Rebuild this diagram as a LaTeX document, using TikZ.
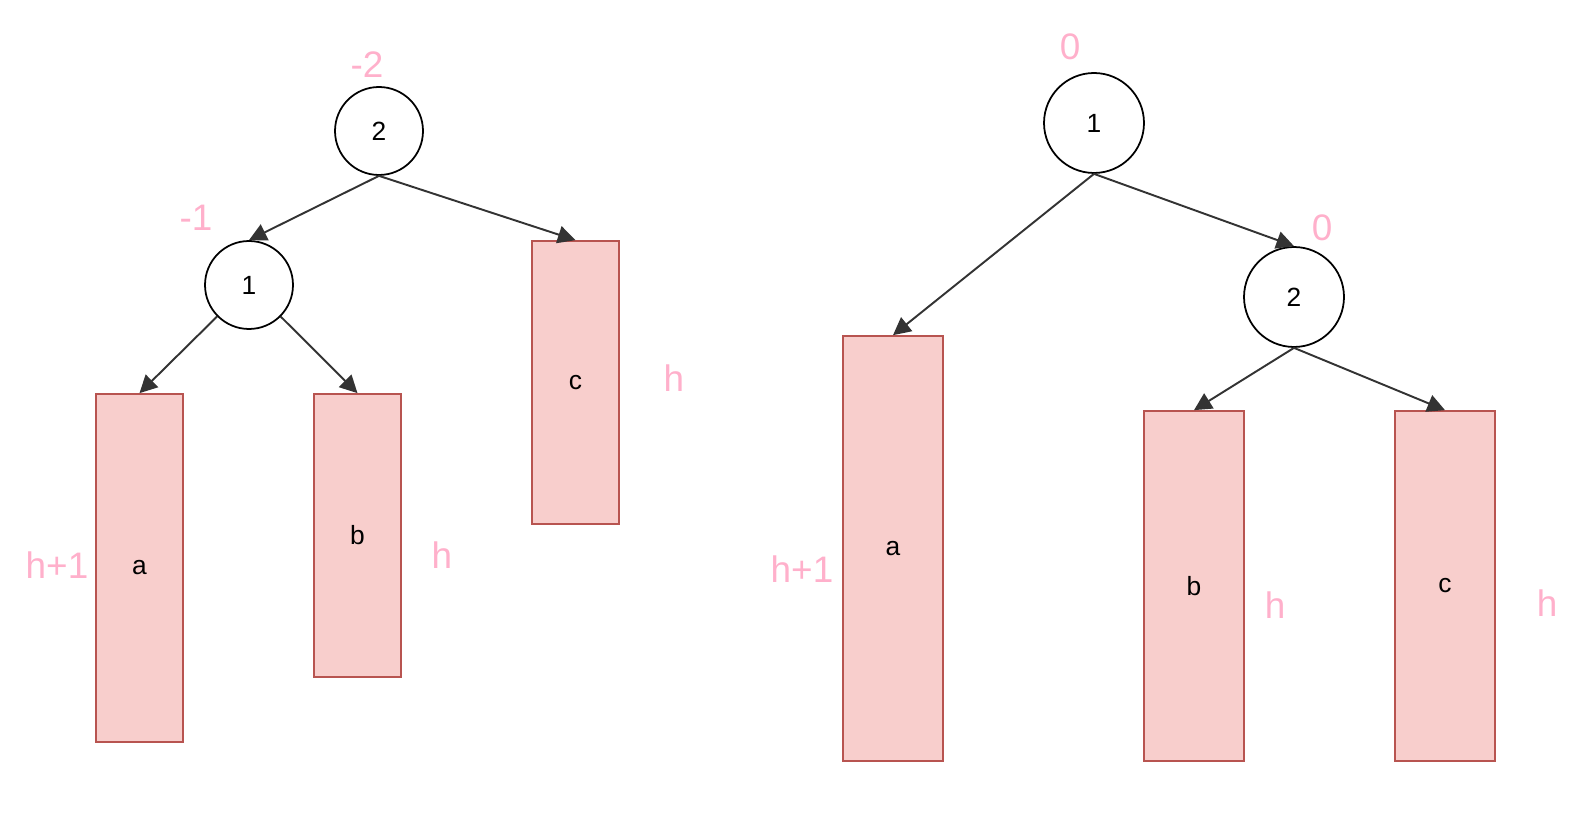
\documentclass[tikz,border=0pt]{standalone}
\usepackage{fontspec}
\setmainfont{Liberation Sans}
\usetikzlibrary{arrows.meta}

\definecolor{subfill}{HTML}{F8CECC}
\definecolor{subdraw}{HTML}{B85450}
\definecolor{balpink}{HTML}{FFB0CB}

\begin{document}
\begin{tikzpicture}
          [
            x=0.02cm, y=-0.02cm,
            tnode/.style={circle,draw=black,line width=1pt,fill=white,font=\fontsize{15}{15}\selectfont},
            sub/.style={rectangle,draw=subdraw,fill=subfill,line width=1pt,font=\fontsize{15}{15}\selectfont},
            bal/.style={text=balpink,font=\fontsize{21}{21}\selectfont},
            edge/.style={draw=black!80,line width=1.1pt,-{Triangle[length=10pt,width=10pt]}}
          ]
          \useasboundingbox (0,0) rectangle (1595,830);
          % left tree
          \node [tnode,minimum size=1.76cm] (l2) at (379,131) {2};
          \node [tnode,minimum size=1.76cm] (l1) at (249,285) {1};
          \node [sub,minimum width=1.74cm,minimum height=6.96cm] (la) at (139.5,568) {a};
          \node [sub,minimum width=1.74cm,minimum height=5.66cm] (lb) at (357.5,535.5) {b};
          \node [sub,minimum width=1.74cm,minimum height=5.66cm] (lc) at (575.5,382.5) {c};
          \node [bal] (lbal2) at (367,65) {-2};
          \node [bal] (lbal1) at (196,218) {-1};
          \node [bal] (lha) at (57,565) {h+1};
          \node [bal] (lhb) at (442,555) {h};
          \node [bal] (lhc) at (674,378) {h};
          \draw [edge] (l2.south) -- (l1.north);
          \draw [edge] (l2.south) -- (lc.north);
          \draw [edge] (l1) -- (la.north);
          \draw [edge] (l1) -- (lb.north);
          % right tree
          \node [tnode,minimum size=2cm] (r1) at (1094,123) {1};
          \node [tnode,minimum size=2cm] (r2) at (1294,297) {2};
          \node [sub,minimum width=2cm,minimum height=8.5cm] (ra) at (893,548.5) {a};
          \node [sub,minimum width=2cm,minimum height=7cm] (rb) at (1194,586) {b};
          \node [sub,minimum width=2cm,minimum height=7cm] (rc) at (1445,586) {c};
          \node [bal] (rbal1) at (1070,47) {0};
          \node [bal] (rbal2) at (1322,228) {0};
          \node [bal] (rha) at (802,569) {h+1};
          \node [bal] (rhb) at (1275,605) {h};
          \node [bal] (rhc) at (1547,603) {h};
          \draw [edge] (r1.south) -- (ra.north);
          \draw [edge] (r1.south) -- (r2.north);
          \draw [edge] (r2.south) -- (rb.north);
          \draw [edge] (r2.south) -- (rc.north);
        \end{tikzpicture}
\end{document}
